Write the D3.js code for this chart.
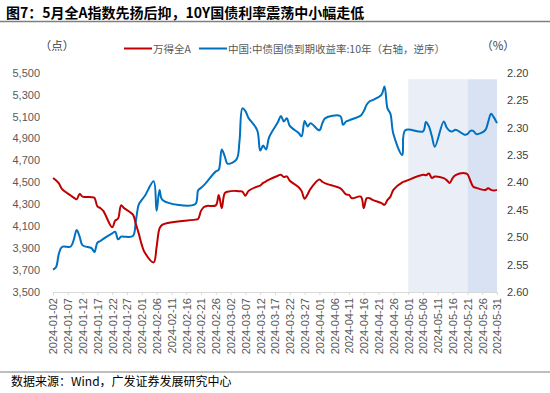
<!DOCTYPE html>
<html><head><meta charset="utf-8">
<script src="https://cdn.jsdelivr.net/npm/d3@7"></script>
<style>
html,body{margin:0;padding:0;background:#fff;}
svg{display:block;}
</style></head>
<body>
<svg id="chart" width="550" height="393"></svg>
<script>
const dates = [
"2024-01-02","2024-01-03","2024-01-04","2024-01-05","2024-01-08","2024-01-09","2024-01-10","2024-01-11","2024-01-12","2024-01-15","2024-01-16","2024-01-17","2024-01-18","2024-01-19","2024-01-22","2024-01-23","2024-01-24","2024-01-25","2024-01-26","2024-01-29","2024-01-30","2024-01-31",
"2024-02-01","2024-02-02","2024-02-05","2024-02-06","2024-02-07","2024-02-08","2024-02-19","2024-02-20","2024-02-21","2024-02-22","2024-02-23","2024-02-26","2024-02-27","2024-02-28","2024-02-29",
"2024-03-01","2024-03-04","2024-03-05","2024-03-06","2024-03-07","2024-03-08","2024-03-11","2024-03-12","2024-03-13","2024-03-14","2024-03-15","2024-03-18","2024-03-19","2024-03-20","2024-03-21","2024-03-22","2024-03-25","2024-03-26","2024-03-27","2024-03-28","2024-03-29",
"2024-04-01","2024-04-02","2024-04-03","2024-04-08","2024-04-09","2024-04-10","2024-04-11","2024-04-12","2024-04-15","2024-04-16","2024-04-17","2024-04-18","2024-04-19","2024-04-22","2024-04-23","2024-04-24","2024-04-25","2024-04-26","2024-04-29","2024-04-30",
"2024-05-06","2024-05-07","2024-05-08","2024-05-09","2024-05-10","2024-05-13","2024-05-14","2024-05-15","2024-05-16","2024-05-17","2024-05-20","2024-05-21","2024-05-22","2024-05-23","2024-05-24","2024-05-27","2024-05-28","2024-05-29","2024-05-30","2024-05-31"
];
const windA = [
4540,4520,4490,4440,4380,4360,4345,4395,4370,4365,4360,4280,4265,4240,4090,4150,4170,4290,4265,4205,4120,4030,
3930,3860,3770,3910,4080,4115,4160,4165,4240,4275,4285,4290,4385,4265,4400,
4415,4422,4418,4415,4377,4420,4462,4470,4495,4510,4525,4560,4570,4548,4555,4515,4455,4420,4350,4390,4440,
4525,4505,4490,4447,4420,4390,4385,4355,4370,4265,4356,4355,4340,4310,4295,4340,4370,4431,4500,4510,
4569,4565,4580,4540,4553,4538,4520,4495,4538,4565,4584,4575,4515,4460,4450,4430,4447,4431,4425,4431
];
const cgb10y = [
2.559,2.555,2.530,2.518,2.517,2.505,2.487,2.499,2.515,2.520,2.527,2.510,2.507,2.503,2.493,2.490,2.504,2.499,2.499,2.498,2.470,2.440,
2.432,2.425,2.398,2.452,2.414,2.432,2.440,2.415,2.410,2.405,2.399,2.380,2.377,2.340,2.352,
2.366,2.358,2.325,2.265,2.270,2.282,2.305,2.342,2.333,2.340,2.318,2.290,2.279,2.289,2.283,2.297,2.310,2.316,2.288,2.298,2.292,
2.305,2.292,2.283,2.279,2.295,2.289,2.287,2.285,2.278,2.270,2.258,2.252,2.250,2.240,2.225,2.265,2.275,2.312,2.350,2.305,
2.307,2.290,2.298,2.316,2.335,2.289,2.300,2.306,2.307,2.304,2.313,2.312,2.306,2.306,2.312,2.305,2.290,2.275,2.282,2.292
];
const xTickLabels = ["2024-01-02","2024-01-07","2024-01-12","2024-01-17","2024-01-22","2024-01-27","2024-02-01","2024-02-06","2024-02-11","2024-02-16","2024-02-21","2024-02-26","2024-03-02","2024-03-07","2024-03-12","2024-03-17","2024-03-22","2024-03-27","2024-04-01","2024-04-06","2024-04-11","2024-04-16","2024-04-21","2024-04-26","2024-05-01","2024-05-06","2024-05-11","2024-05-16","2024-05-21","2024-05-26","2024-05-31"];
const leftTicks = [3500,3700,3900,4100,4300,4500,4700,4900,5100,5300,5500];
const rightTicks = [2.20,2.25,2.30,2.35,2.40,2.45,2.50,2.55,2.60];
const bands = [
  {start:"2024-05-01", end:"2024-05-21", color:"#E9EEF7"},
  {start:"2024-05-21", end:"2024-05-31", color:"#D9E2F2"}
];
const bandTop = 5440;
const seriesNames = ["万得全A","中国:中债国债到期收益率:10年（右轴，逆序）"];
const colors = ["#C00000","#0070C0"];

const parse = d3.timeParse("%Y-%m-%d");
const svg = d3.select("#chart");
const L = 53, R = 497, T = 72.7, B = 292;
const x = d3.scaleTime().domain([parse("2024-01-02"), parse("2024-05-31")]).range([L, R]);
const yL = d3.scaleLinear().domain([3500, 5500]).range([B, T]);
const yR = d3.scaleLinear().domain([2.60, 2.20]).range([B, T]);
const latin = "'Liberation Sans', Arial, sans-serif";
const cjk = "'Noto Sans CJK SC', 'Liberation Sans', sans-serif";

// title
svg.append("text").attr("x", 6).attr("y", 18).attr("font-family", cjk).attr("font-weight", "bold")
  .attr("font-size", 14).attr("fill", "#000").text("图7：5月全A指数先扬后抑，10Y国债利率震荡中小幅走低");
svg.append("line").attr("x1", 0).attr("x2", 550).attr("y1", 21.5).attr("y2", 21.5).attr("stroke", "#7f7f7f").attr("stroke-width", 1.5);
svg.append("line").attr("x1", 0).attr("x2", 550).attr("y1", 372).attr("y2", 372).attr("stroke", "#7f7f7f").attr("stroke-width", 1.2);
svg.append("text").attr("x", 11).attr("y", 386).attr("font-family", cjk).attr("font-size", 12).attr("fill", "#000")
  .text("数据来源：Wind，广发证券发展研究中心");

// bands
svg.append("g").selectAll("rect").data(bands).join("rect")
  .attr("x", d => x(parse(d.start))).attr("width", d => x(parse(d.end)) - x(parse(d.start)))
  .attr("y", yL(bandTop)).attr("height", B - yL(bandTop)).attr("fill", d => d.color);

// axis units
svg.append("text").attr("x", 57).attr("y", 50).attr("text-anchor", "middle").attr("font-family", cjk)
  .attr("font-size", 11.5).attr("fill", "#404040").text("（点）");
svg.append("text").attr("x", 498).attr("y", 50).attr("text-anchor", "middle").attr("font-family", cjk)
  .attr("font-size", 11.5).attr("fill", "#404040").text("（%）");

// legend
const lg = svg.append("g");
[[124, 153], [199, 228]].forEach((p, i) => {
  lg.append("line").attr("x1", p[0]).attr("x2", p[0] + 28).attr("y1", 48.5).attr("y2", 48.5)
    .attr("stroke", colors[i]).attr("stroke-width", 2);
  lg.append("text").attr("x", p[1]).attr("y", 52.5).attr("font-family", cjk).attr("font-size", 10.5)
    .attr("fill", "#595959").text(seriesNames[i]);
});

// left axis labels
svg.append("g").selectAll("text").data(leftTicks).join("text")
  .attr("x", 40).attr("y", d => yL(d) + 4).attr("text-anchor", "end").attr("font-family", latin)
  .attr("font-size", 11).attr("fill", "#595959").text(d3.format(","));
// right axis labels
svg.append("g").selectAll("text").data(rightTicks).join("text")
  .attr("x", 507).attr("y", d => yR(d) + 4).attr("text-anchor", "start").attr("font-family", latin)
  .attr("font-size", 11).attr("fill", "#404040").text(d3.format(".2f"));

// x axis
const xa = svg.append("g").attr("transform", `translate(0,${B})`)
  .call(d3.axisBottom(x).tickValues(xTickLabels.map(parse)).tickSize(3).tickFormat(d3.timeFormat("%Y-%m-%d")));
xa.select(".domain").attr("stroke", "#d9d9d9");
xa.selectAll(".tick line").attr("stroke", "#d9d9d9");
xa.selectAll(".tick text").attr("font-family", latin).attr("font-size", 11).attr("fill", "#595959")
  .attr("transform", "rotate(-90)").attr("text-anchor", "end").attr("x", -6).attr("y", 0).attr("dy", "0.35em");

// lines
const pts = dates.map((d, i) => ({d: parse(d), a: windA[i], b: cgb10y[i]}));
const curve = d3.curveCatmullRom.alpha(0.5);
svg.append("path").datum(pts).attr("fill", "none").attr("stroke", colors[1]).attr("stroke-width", 2)
  .attr("d", d3.line().curve(curve).x(p => x(p.d)).y(p => yR(p.b)));
svg.append("path").datum(pts).attr("fill", "none").attr("stroke", colors[0]).attr("stroke-width", 2)
  .attr("d", d3.line().curve(curve).x(p => x(p.d)).y(p => yL(p.a)));
</script>
</body></html>
